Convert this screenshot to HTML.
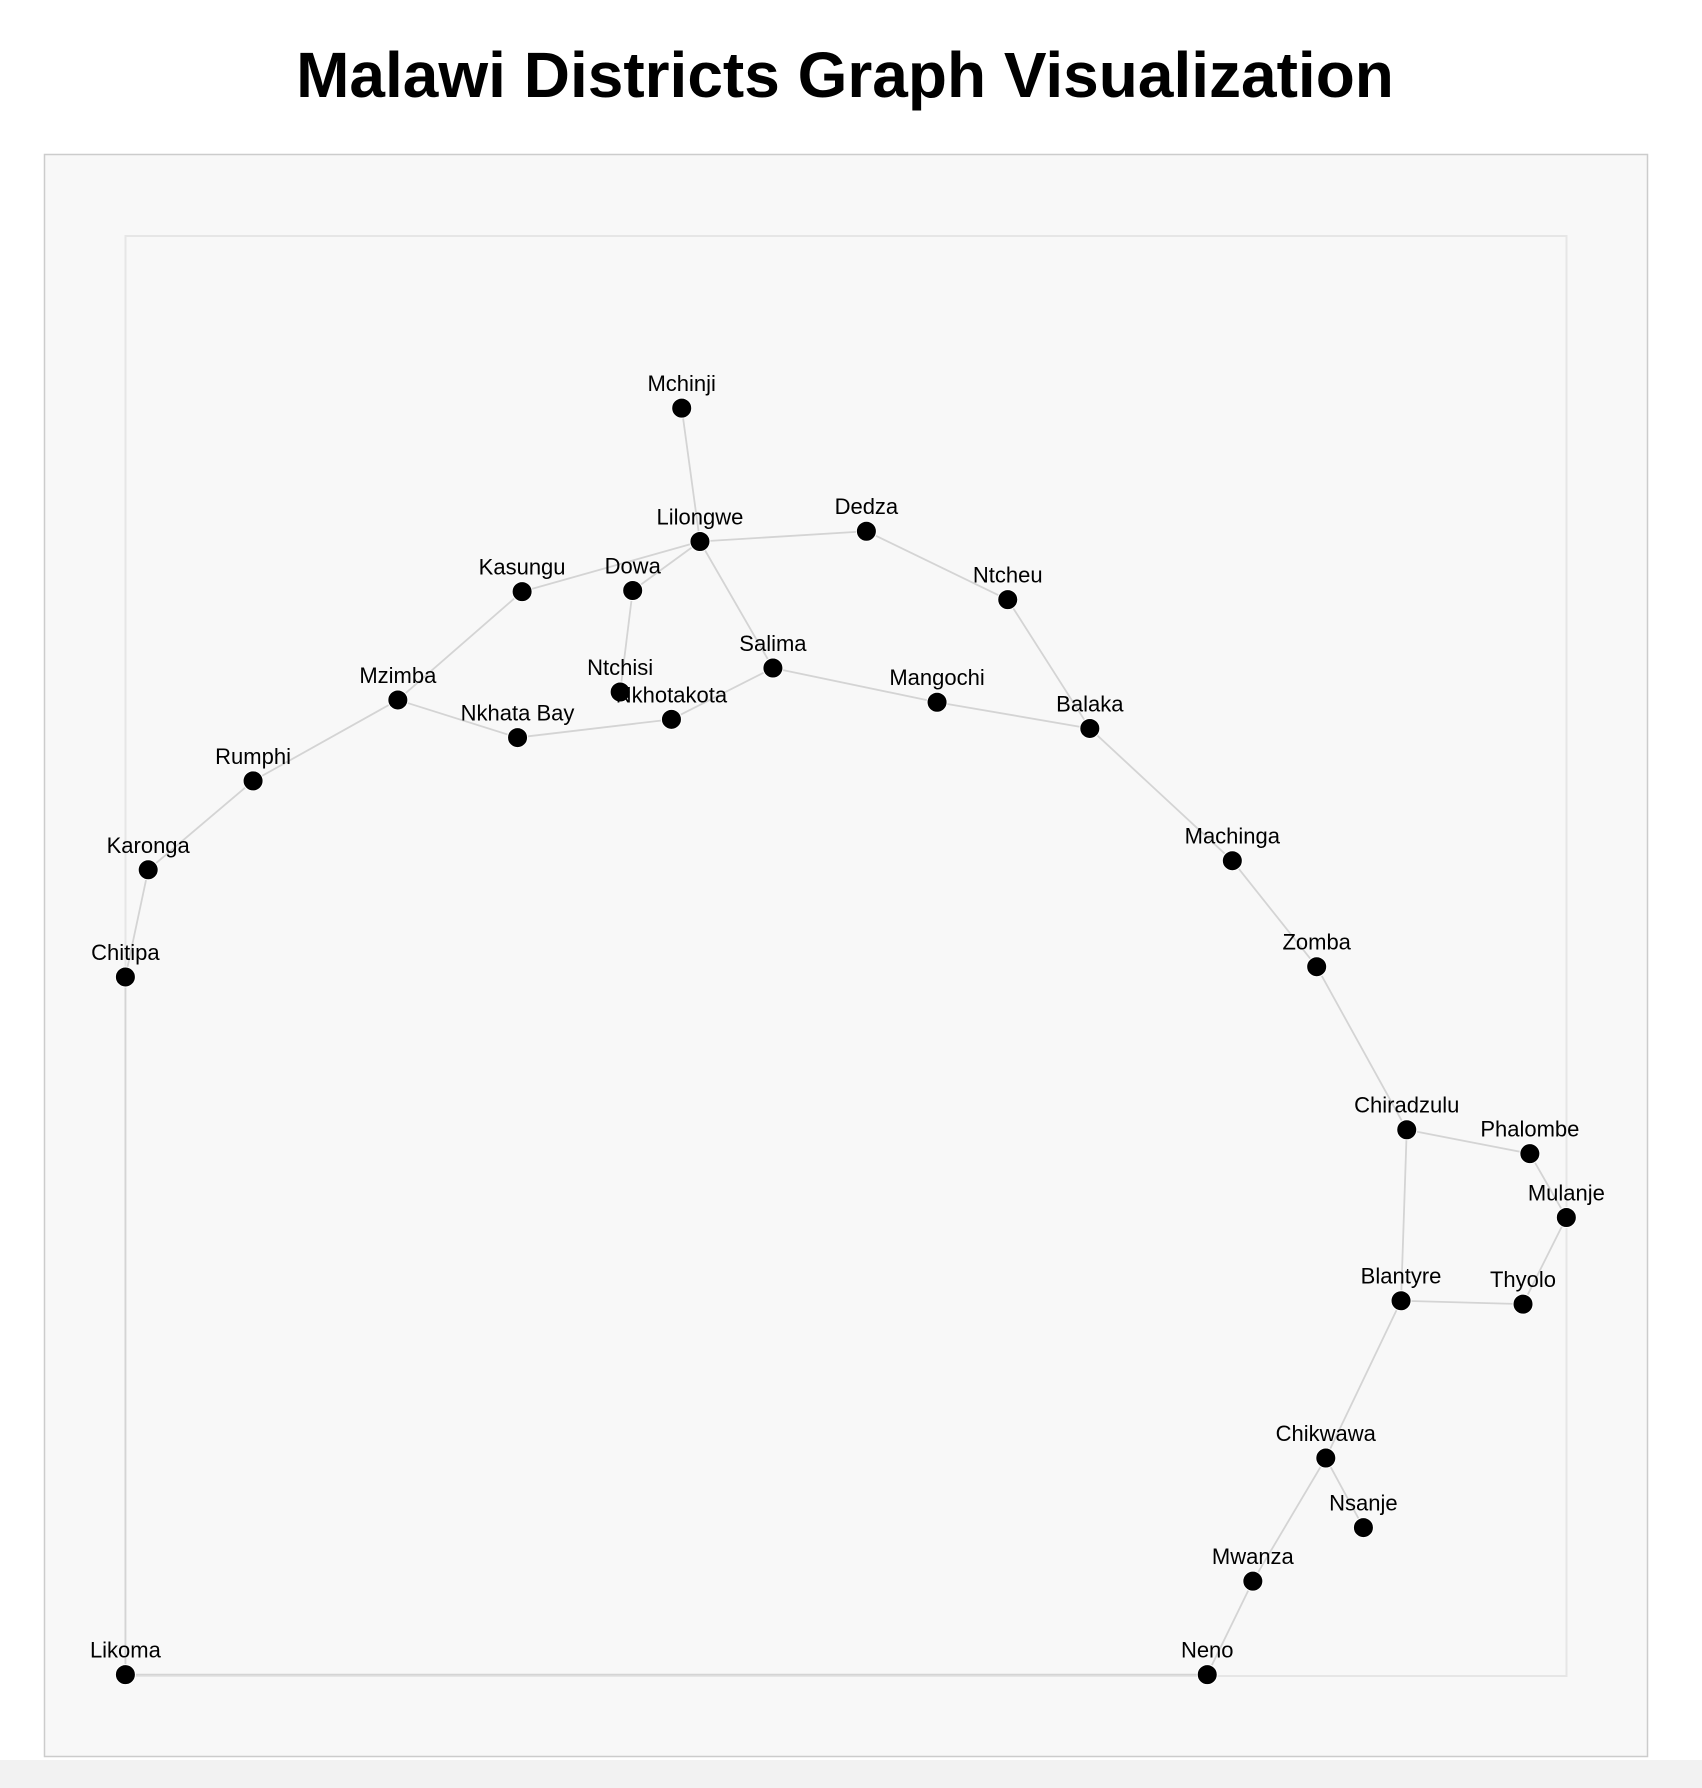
<!DOCTYPE html>
<html><head><meta charset="utf-8"><style>
html,body{margin:0;padding:0;background:#fff;width:1702px;height:1788px;overflow:hidden}
svg{display:block}
</style></head><body>
<svg id="chart" width="1702" height="1788">
<rect x="0" y="1760" width="1702" height="28" fill="#f2f2f2"/>
<text x="845" y="97" text-anchor="middle" font-family="Liberation Sans, sans-serif" font-weight="bold" font-size="64" fill="#000">Malawi Districts Graph Visualization</text>
<rect x="44.5" y="154.5" width="1603" height="1602" fill="#f8f8f8" stroke="#cccccc" stroke-width="1.5"/>
<rect x="125.5" y="236" width="1441" height="1440" fill="none" stroke="#e6e6e6" stroke-width="2"/>
<g id="edges"></g><g id="nodes"></g>
</svg>
<script>
const names=["Mchinji","Lilongwe","Dedza","Kasungu","Dowa","Ntcheu","Salima","Ntchisi","Nkhotakota","Mzimba","Nkhata Bay","Mangochi","Balaka","Rumphi","Karonga","Chitipa","Machinga","Zomba","Chiradzulu","Phalombe","Mulanje","Blantyre","Thyolo","Chikwawa","Nsanje","Mwanza","Neno","Likoma"];
const xs=[598,614,760,458,555,884,678,544,589,349,454,822,956,222,130,110,1081,1155,1234,1342,1374,1229,1336,1163,1196,1099,1059,110];
const ys=[358,475,466,519,518,526,586,607,631,614,647,616,639,685,763,857,755,848,991,1012,1068,1141,1144,1279,1340,1387,1469,1469];
const edgeFrom=["Mchinji","Lilongwe","Lilongwe","Lilongwe","Lilongwe","Dedza","Ntcheu","Kasungu","Dowa","Salima","Nkhotakota","Nkhata Bay","Mzimba","Rumphi","Karonga","Chitipa","Likoma","Neno","Mwanza","Chikwawa","Chikwawa","Blantyre","Thyolo","Mulanje","Phalombe","Chiradzulu","Chiradzulu","Zomba","Machinga","Balaka","Mangochi"];
const edgeTo=["Lilongwe","Dedza","Kasungu","Dowa","Salima","Ntcheu","Balaka","Mzimba","Ntchisi","Nkhotakota","Nkhata Bay","Mzimba","Rumphi","Karonga","Chitipa","Likoma","Neno","Mwanza","Chikwawa","Nsanje","Blantyre","Thyolo","Mulanje","Phalombe","Chiradzulu","Blantyre","Zomba","Machinga","Balaka","Mangochi","Salima"];
const S=1702/1493;
const sx=v=>v*S, sy=v=>v*S;
const NS="http://www.w3.org/2000/svg";
const eg=document.getElementById('edges'), ng=document.getElementById('nodes');
const idx=n=>names.indexOf(n);
edgeFrom.forEach((f,i)=>{
  const a=idx(f), b=idx(edgeTo[i]);
  const l=document.createElementNS(NS,'line');
  l.setAttribute('x1',sx(xs[a]));l.setAttribute('y1',sy(ys[a]));
  l.setAttribute('x2',sx(xs[b]));l.setAttribute('y2',sy(ys[b]));
  l.setAttribute('stroke','#d4d4d4');l.setAttribute('stroke-width','1.8');
  
  
  eg.appendChild(l);
});
names.forEach((n,i)=>{
  const c=document.createElementNS(NS,'circle');
  c.setAttribute('cx',sx(xs[i]));c.setAttribute('cy',sy(ys[i]));c.setAttribute('r',10);
  c.setAttribute('fill','#000');c.setAttribute('stroke','#fff');c.setAttribute('stroke-width','1');
  
  
  ng.appendChild(c);
  const t=document.createElementNS(NS,'text');
  t.setAttribute('x',sx(xs[i]));t.setAttribute('y',sy(ys[i])-17);
  t.setAttribute('text-anchor','middle');t.setAttribute('font-family','Liberation Sans, sans-serif');
  t.setAttribute('font-size','22');t.setAttribute('fill','#000');
  t.textContent=n;
  
  
  ng.appendChild(t);
});
</script>
</body></html>
